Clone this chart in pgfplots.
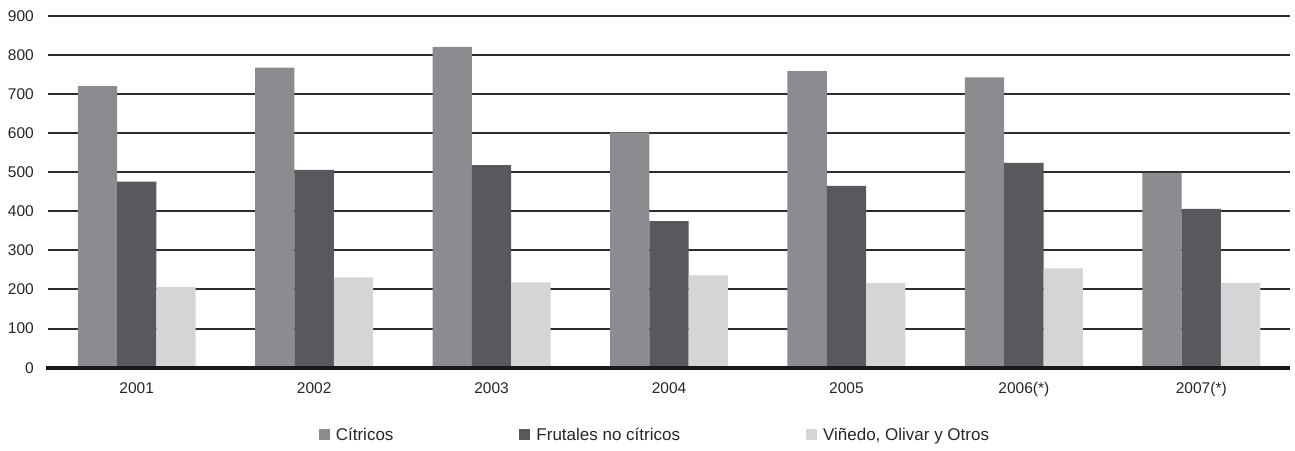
\documentclass[border=0pt]{standalone}
\usepackage{fontspec}
\setmainfont{Liberation Sans}
\usepackage{pgfplots}
\pgfplotsset{compat=1.18}
\definecolor{citricos}{RGB}{139,140,144}
\definecolor{frutales}{RGB}{88,89,92}
\definecolor{vinedo}{RGB}{212,213,215}
\definecolor{rejilla}{RGB}{45,45,45}

\begin{document}
\begin{tikzpicture}
\begin{axis}[
  scale only axis,
  width=1242pt, height=352pt,
  ybar=0pt, bar width=39.3pt,
  xmin=-0.5, xmax=6.5, ymin=0, ymax=900,
  xtick=data,
  xticklabels={2001,2002,2003,2004,2005,2006(*),2007(*)},
  ytick={0,100,...,900},
  ymajorgrids,
  grid style={rejilla, line width=2pt},
  axis line style={draw=none},
  major tick length=0pt,
  tick style={draw=none},
  /pgf/number format/assume math mode=true,
  ticklabel style={font=\fontsize{15.5}{18}\selectfont, text=black!85},
  yticklabel style={inner sep=0pt, xshift=-14pt},
  xticklabel style={inner sep=0pt, yshift=-15pt, text height=11pt, text depth=3pt},
  legend columns=3,
  legend style={draw=none, fill=none, at={(0.4887,-0.19)}, anchor=center,
    font=\fontsize{17}{20}\selectfont, text=black!85,
    /tikz/every odd column/.append style={column sep=4pt},
    /tikz/every even column/.append style={column sep=124pt}},
  legend image code/.code={\fill[#1,draw=none] (0pt,-5.5pt) rectangle (11pt,5.5pt);},
  clip=false,
]
% Cítricos
\addplot[fill=citricos, draw=none] coordinates {
  (0,720) (1,767) (2,820) (3,602) (4,758) (5,742) (6,498)};
% Frutales no cítricos
\addplot[fill=frutales, draw=none] coordinates {
  (0,476) (1,506) (2,518) (3,375) (4,465) (5,524) (6,406)};
% Viñedo, Olivar y Otros
\addplot[fill=vinedo, draw=none] coordinates {
  (0,206) (1,231) (2,218) (3,236) (4,216) (5,254) (6,217)};
\legend{Cítricos, Frutales no cítricos, {Viñedo, Olivar y Otros}}
\draw[black!90, line width=4pt] ([xshift=-2pt]rel axis cs:0,0) -- (rel axis cs:1,0);
\coordinate (SW) at (rel axis cs:0,0);
\coordinate (NE) at (rel axis cs:1,1);
\end{axis}
\pgfresetboundingbox
\path[use as bounding box] ([shift={(-48pt,-82.3pt)}]SW) rectangle ([shift={(5pt,15.7pt)}]NE);
\end{tikzpicture}
\end{document}
